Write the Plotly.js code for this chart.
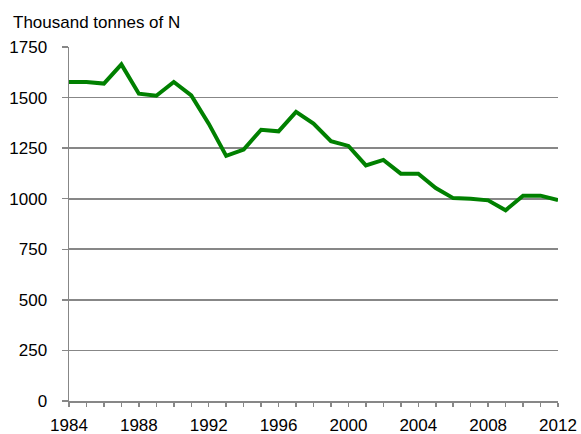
<!DOCTYPE html>
<html>
<head>
<meta charset="utf-8">
<script src="https://cdn.plot.ly/plotly-3.0.1.min.js"></script>
<style>html,body{margin:0;padding:0;background:#fff;}#chart{width:581px;height:434px;}</style>
</head>
<body>
<div id="chart"></div>
<script>
const years = [1984,1985,1986,1987,1988,1989,1990,1991,1992,1993,1994,1995,1996,1997,1998,1999,2000,2001,2002,2003,2004,2005,2006,2007,2008,2009,2010,2011,2012];
const nitrogen = [1577,1577,1569,1664,1519,1509,1577,1511,1371,1212,1243,1341,1333,1429,1371,1284,1261,1165,1192,1124,1124,1053,1003,1000,992,943,1015,1015,993];
const yTicks = [0,250,500,750,1000,1250,1500,1750];
const xTicks = [1984,1988,1992,1996,2000,2004,2008,2012];
const titleText = 'Thousand tonnes of N';

const gray = '#878787';
const font = {family: 'Liberation Sans, Arial, sans-serif', size: 17, color: '#000'};

Plotly.newPlot('chart', [{
  x: years, y: nitrogen, type: 'scatter', mode: 'lines',
  line: {color: '#008000', width: 4}, hoverinfo: 'none'
}], {
  width: 581, height: 434,
  margin: {l: 69, r: 23, t: 47, b: 33, pad: 0},
  paper_bgcolor: '#fff', plot_bgcolor: '#fff',
  font: font,
  showlegend: false,
  title: {text: titleText, font: font, xref: 'container', yref: 'container',
          x: 13/581, xanchor: 'left', y: 1 - 22/434, yanchor: 'middle'},
  xaxis: {
    range: [1984, 2012], tickvals: xTicks, ticktext: xTicks.map(String),
    showgrid: false, zeroline: false, showline: true, linecolor: gray, linewidth: 1.5,
    ticks: 'outside', ticklen: 4, tickwidth: 1.5, tickcolor: gray,
    minor: {dtick: 1, tick0: 1984, ticks: 'outside', ticklen: 4, tickwidth: 1.5, tickcolor: gray, showgrid: false},
    tickfont: font, fixedrange: true, ticklabelstandoff: 4
  },
  yaxis: {
    range: [0, 1750], tickvals: yTicks, ticktext: yTicks.map(String),
    showgrid: true, gridcolor: gray, gridwidth: 1.7, zeroline: false,
    showline: true, linecolor: gray, linewidth: 1.5,
    ticks: 'outside', ticklen: 6, tickwidth: 1.5, tickcolor: gray,
    tickfont: font, fixedrange: true, ticklabelstandoff: 11, ticklabelshift: -3.5
  }
}, {displayModeBar: false, staticPlot: true});
</script>
</body>
</html>
